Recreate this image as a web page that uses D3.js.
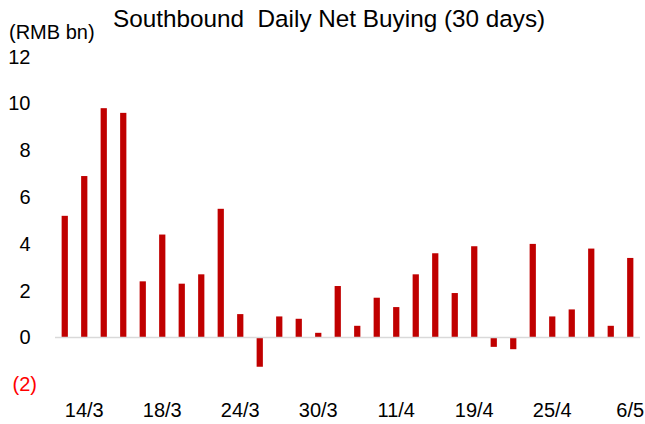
<!DOCTYPE html>
<html>
<head>
<meta charset="utf-8">
<script src="https://cdn.jsdelivr.net/npm/d3@7"></script>
<style>
  body { margin: 0; background: #fff; }
  text { font-family: "Liberation Sans", Arial, sans-serif; }
</style>
</head>
<body>
<svg id="chart"></svg>
<script>
// Chart size
const width = 645;
const height = 424;

// Trading days shown (30 days)
const days = ["11/3", "14/3", "15/3", "16/3", "17/3", "18/3", "21/3", "22/3", "23/3", "24/3",
  "25/3", "28/3", "29/3", "30/3", "31/3", "1/4", "8/4", "11/4", "12/4", "13/4",
  "14/4", "19/4", "20/4", "21/4", "22/4", "25/4", "26/4", "27/4", "28/4", "6/5"];

// Net buying, RMB bn
const netBuying = [5.2, 6.9, 9.8, 9.6, 2.4, 4.4, 2.3, 2.7, 5.5, 1.0,
  -1.25, 0.9, 0.8, 0.2, 2.2, 0.5, 1.7, 1.3, 2.7, 3.6,
  1.9, 3.9, -0.4, -0.5, 4.0, 0.9, 1.2, 3.8, 0.5, 3.4];

// Labels on the x axis
const xTickLabels = ["14/3", "18/3", "24/3", "30/3", "11/4", "19/4", "25/4", "6/5"];

// Y axis ticks
const yTicks = [-2, 0, 2, 4, 6, 8, 10, 12];

const data = days.map((d, i) => ({ day: d, value: netBuying[i] }));

const svg = d3.select("#chart")
  .attr("width", width)
  .attr("height", height);

svg.append("rect")
  .attr("width", width)
  .attr("height", height)
  .attr("fill", "#fff");

// Scales
const x = d3.scaleBand()
  .domain(days)
  .range([55, 640])
  .paddingInner(0.68)
  .paddingOuter(0.34);

const y = d3.scaleLinear()
  .domain([-2, 12])
  .range([384.3, 56.7]);

// Title and unit
svg.append("text")
  .attr("x", 113)
  .attr("y", 27)
  .attr("font-size", 24.3)
  .attr("fill", "#000")
  .attr("xml:space", "preserve")
  .style("white-space", "pre")
  .text("Southbound  Daily Net Buying (30 days)");

svg.append("text")
  .attr("x", 9)
  .attr("y", 39)
  .attr("font-size", 20)
  .attr("fill", "#000")
  .text("(RMB bn)");

// Y axis labels
const yAxis = svg.append("g")
  .attr("transform", "translate(37,0)")
  .call(d3.axisLeft(y)
    .tickValues(yTicks)
    .tickSize(0)
    .tickPadding(0)
    .tickFormat(d => d < 0 ? `(${Math.abs(d)})` : d));

yAxis.select(".domain").remove();
yAxis.selectAll("text")
  .attr("font-size", 20)
  .attr("font-family", "Liberation Sans, Arial, sans-serif")
  .attr("fill", d => d < 0 ? "#ff0000" : "#000")
  .attr("x", d => d < 0 ? 0 : -6.5);

// Bars
svg.selectAll(".bar")
  .data(data)
  .enter()
  .append("rect")
  .attr("class", "bar")
  .attr("x", d => x(d.day))
  .attr("y", d => y(Math.max(0, d.value)))
  .attr("width", x.bandwidth())
  .attr("height", d => Math.abs(y(d.value) - y(0)))
  .attr("fill", "#c00000");

// Zero line
svg.append("line")
  .attr("x1", 55)
  .attr("x2", 640)
  .attr("y1", y(0))
  .attr("y2", y(0))
  .attr("stroke", "#d9d9d9")
  .attr("stroke-width", 1.5);

// X axis labels
const tickDays = days.filter(d => xTickLabels.includes(d));
const xAxis = svg.append("g")
  .attr("transform", "translate(0,403)")
  .call(d3.axisBottom(x)
    .tickValues(tickDays)
    .tickSize(0)
    .tickPadding(0));

xAxis.select(".domain").remove();
xAxis.selectAll("text")
  .attr("font-size", 20)
  .attr("font-family", "Liberation Sans, Arial, sans-serif")
  .attr("fill", "#000")
  .attr("dy", "0.71em");
</script>
</body>
</html>
